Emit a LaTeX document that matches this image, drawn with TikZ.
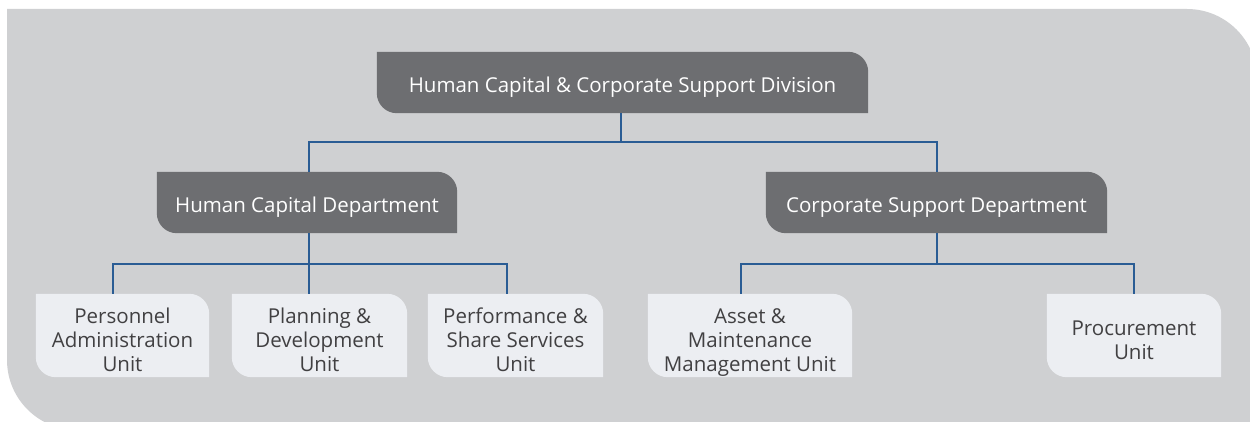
\documentclass[tikz,border=0pt]{standalone}
\usepackage{fontspec}
\setmainfont{Open Sans}
\pgfdeclarelayer{panel}
\pgfdeclarelayer{background}
\pgfsetlayers{panel,background,main}
\definecolor{panelgray}{HTML}{CFD0D2}
\definecolor{darkbox}{HTML}{6D6E71}
\definecolor{lightbox}{HTML}{ECEEF2}
\definecolor{connblue}{HTML}{2A5C94}
\definecolor{unittext}{HTML}{414042}
\tikzset{
  headbox/.style={inner sep=0pt, text=white, align=center,
    font=\fontsize{20.5}{24}\selectfont, text height=21pt, text depth=0pt},
  unitbox/.style={inner sep=0pt, text=unittext, align=center,
    font=\fontsize{20.5}{24}\selectfont, text height=71pt, text depth=0pt},
  twoline/.style={text height=47pt},
  conn/.style={draw=connblue, line width=1.5pt},
}
\newcommand\cornerfill[2]{%
  \fill[#2] (#1.north west) -- ([xshift=-20pt]#1.north east)
    arc[start angle=90,end angle=0,radius=20pt] -- (#1.south east)
    -- ([xshift=20pt]#1.south west)
    arc[start angle=270,end angle=180,radius=20pt] -- cycle;}
\begin{document}
\begin{tikzpicture}[x=1pt,y=1pt]
\useasboundingbox (0,0) rectangle (1250,421);
% panel
\begin{pgfonlayer}{panel}
\fill[panelgray] (7,412) -- (1187,412) arc[start angle=90,end angle=0,radius=70pt]
  -- (1257,-9) -- (77,-9) arc[start angle=270,end angle=180,radius=70pt] -- cycle;
\end{pgfonlayer}
% nodes
\node[headbox, minimum width=491pt, minimum height=61pt] (top) at (622.5,338.5)
  {Human Capital \& Corporate Support Division};
\node[headbox, minimum width=300pt, minimum height=61pt] (hc) at (307,218.5)
  {Human Capital Department};
\node[headbox, minimum width=341pt, minimum height=61pt] (cs) at (936.5,218.5)
  {Corporate Support Department};
\node[unitbox, minimum width=173pt, minimum height=83pt] (pa) at (122.5,85.5)
  {Personnel\\Administration\\Unit};
\node[unitbox, minimum width=175pt, minimum height=83pt] (pl) at (319.5,85.5)
  {Planning \&\\Development\\Unit};
\node[unitbox, minimum width=175pt, minimum height=83pt] (pf) at (515.5,85.5)
  {Performance \&\\Share Services\\Unit};
\node[unitbox, minimum width=204pt, minimum height=83pt] (am) at (750,85.5)
  {Asset \&\\Maintenance\\Management Unit};
\node[unitbox, twoline, minimum width=174pt, minimum height=83pt] (pr) at (1134,85.5)
  {Procurement\\Unit};
\begin{pgfonlayer}{background}
\cornerfill{top}{darkbox}
\cornerfill{hc}{darkbox}
\cornerfill{cs}{darkbox}
\cornerfill{pa}{lightbox}
\cornerfill{pl}{lightbox}
\cornerfill{pf}{lightbox}
\cornerfill{am}{lightbox}
\cornerfill{pr}{lightbox}
\end{pgfonlayer}
% connectors
\coordinate (j1) at (621,279);
\coordinate (j2) at (309,157);
\coordinate (j3) at (937,157);
\begin{pgfonlayer}{background}
\draw[conn] (j1 |- top.south) -- (j1);
\draw[conn] ([xshift=2pt]hc.north) |- (j1) -| ([xshift=0.5pt]cs.north);
\draw[conn] (j2 |- hc.south) -- (j2);
\draw[conn] ([xshift=-9.5pt]pa.north) |- (j2) -| ([xshift=-8.5pt]pf.north);
\draw[conn] (j2) -- (j2 |- pl.north);
\draw[conn] (j3 |- cs.south) -- (j3);
\draw[conn] ([xshift=-9pt]am.north) |- (j3) -| (pr.north);
\end{pgfonlayer}
\end{tikzpicture}
\end{document}
